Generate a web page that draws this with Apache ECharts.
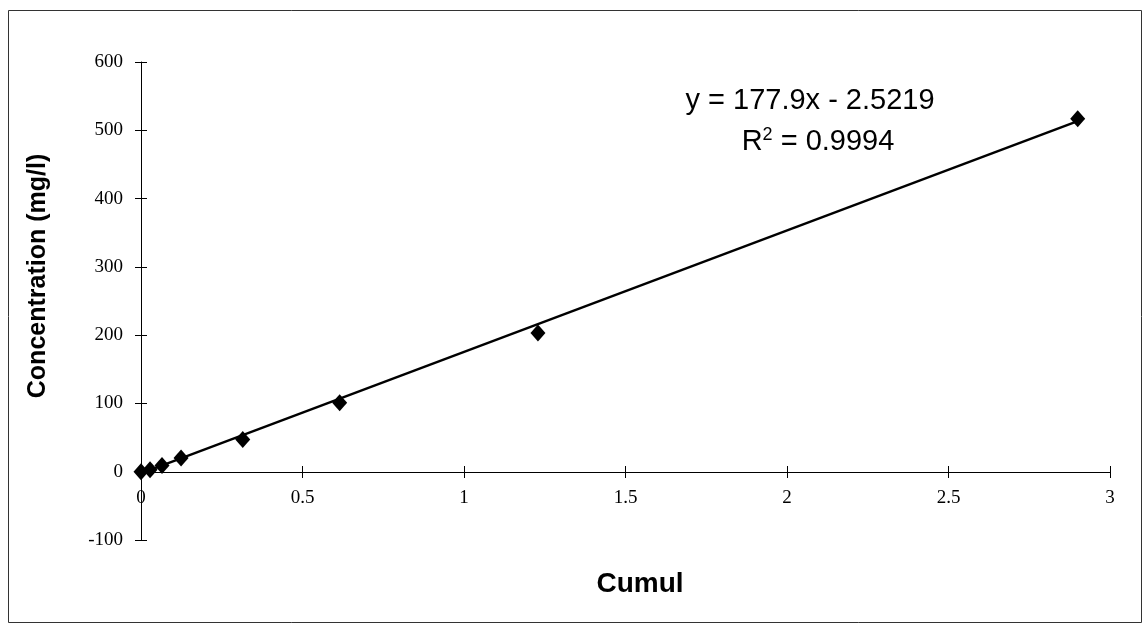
<!DOCTYPE html>
<html>
<head>
<meta charset="utf-8">
<script src="https://cdn.jsdelivr.net/npm/echarts@6/dist/echarts.min.js"></script>
<style>
  html, body { margin: 0; padding: 0; background: #fff; }
  #chart { width: 1143px; height: 624px; }
</style>
</head>
<body>
<div id="chart"></div>
<script>
// measured points
var cumul = [0, 0.028, 0.065, 0.124, 0.315, 0.615, 1.229, 2.9];
var concentration = [0, 3, 9, 20, 47, 101, 203, 517];
// trend line ends (y = 177.9x - 2.5219)
var trendX = [0, 2.9];
var trendY = [-2.52, 513.4];
var yTicks = [-100, 0, 100, 200, 300, 400, 500, 600];

var myChart = echarts.init(document.getElementById("chart"));
var serif = "'Liberation Serif', 'DejaVu Serif', serif";
var sans = "'Liberation Sans', Arial, sans-serif";

// shared axis bits; the second copy of each axis only adds inside ticks (cross ticks)
var xBase = {
  type: "value",
  min: 0,
  max: 3,
  interval: 0.5,
  position: "bottom",
  // axis sits on y = 0 (68px above the bottom of the grid)
  offset: -68,
  splitLine: { show: false }
};
var yBase = {
  type: "value",
  min: yTicks[0],
  max: yTicks[yTicks.length - 1],
  interval: 100,
  position: "left",
  splitLine: { show: false }
};

var option = {
  animation: false,
  backgroundColor: "#fff",
  grid: { left: 141, right: 33, top: 62, bottom: 84 },
  xAxis: [
    Object.assign({}, xBase, {
      axisLine: { onZero: false, lineStyle: { color: "#000", width: 1 } },
      axisTick: { show: true, length: 6, lineStyle: { color: "#000" } },
      axisLabel: { color: "#000", fontFamily: serif, fontSize: 19, margin: 17 }
    }),
    Object.assign({}, xBase, {
      axisLine: { show: false, onZero: false },
      axisTick: { show: true, inside: true, length: 6, lineStyle: { color: "#000" } },
      axisLabel: { show: false }
    })
  ],
  yAxis: [
    Object.assign({}, yBase, {
      axisLine: { show: true, onZero: false, lineStyle: { color: "#000", width: 1 } },
      axisTick: { show: true, length: 6, lineStyle: { color: "#000" } },
      axisLabel: { color: "#000", fontFamily: serif, fontSize: 19, margin: 18 }
    }),
    Object.assign({}, yBase, {
      axisLine: { show: false, onZero: false },
      axisTick: { show: true, inside: true, length: 6, lineStyle: { color: "#000" } },
      axisLabel: { show: false }
    })
  ],
  graphic: [
    {
      type: "rect",
      shape: { x: 8.5, y: 10.5, width: 1133, height: 612 },
      style: { fill: "none", stroke: "#333", lineWidth: 1 },
      silent: true
    },
    {
      type: "text",
      x: 38, y: 276,
      rotation: Math.PI / 2,
      style: {
        text: "Concentration (mg/l)",
        font: "bold 25px " + sans,
        fill: "#000",
        align: "center",
        verticalAlign: "middle"
      }
    },
    {
      type: "text",
      x: 640, y: 584,
      style: {
        text: "Cumul",
        font: "bold 28px " + sans,
        fill: "#000",
        align: "center",
        verticalAlign: "middle"
      }
    },
    {
      type: "text",
      x: 810, y: 101,
      style: {
        text: "y = 177.9x - 2.5219",
        font: "29px " + sans,
        fill: "#000",
        align: "center",
        verticalAlign: "middle"
      }
    },
    {
      type: "text",
      x: 818, y: 142,
      style: {
        text: "{r|R}{s|2}{r| = 0.9994}",
        fill: "#000",
        align: "center",
        verticalAlign: "middle",
        rich: {
          r: { font: "29px " + sans, fill: "#000" },
          s: { font: "18px " + sans, fill: "#000", verticalAlign: "top", padding: [0, 0, 14, 0] }
        }
      }
    }
  ],
  series: [
    {
      name: "trend",
      type: "line",
      data: trendX.map(function (x, i) { return [x, trendY[i]]; }),
      symbol: "none",
      lineStyle: { color: "#000", width: 2.4 },
      silent: true,
      z: 2
    },
    {
      name: "data",
      type: "scatter",
      data: cumul.map(function (x, i) { return [x, concentration[i]]; }),
      symbol: "diamond",
      symbolSize: [15, 17],
      itemStyle: { color: "#000", opacity: 1 },
      z: 3
    }
  ]
};

myChart.setOption(option);
</script>
</body>
</html>
